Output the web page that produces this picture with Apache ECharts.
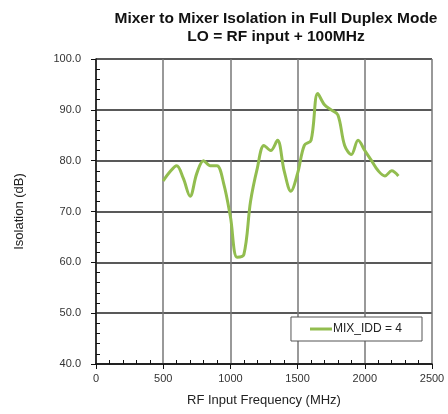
<!DOCTYPE html>
<html><head><meta charset="utf-8">
<script src="https://cdn.jsdelivr.net/npm/echarts@6/dist/echarts.min.js"></script>
<style>html,body{margin:0;padding:0;background:#fff}#c{width:448px;height:414px}</style>
</head><body><div id="c"></div>
<script>
const freqMHz = [500,550,600,650,700,750,800,850,900,950,1000,1050,1100,1150,1200,1250,1300,1350,1400,1450,1500,1550,1600,1650,1700,1750,1800,1850,1900,1950,2000,2050,2100,2150,2200,2250];
const isolationDb = [76.0,77.8,79.0,76.5,73.0,77.5,80.0,79.0,79.0,75.5,69.0,61.0,61.5,72.0,78.5,83.0,82.0,84.0,78.0,74.0,77.5,83.0,84.0,93.2,91.0,90.0,89.0,83.0,81.2,84.0,82.0,80.0,78.0,77.0,78.0,77.0];
const seriesName = 'MIX_IDD = 4';
const titleText = 'Mixer to Mixer Isolation in Full Duplex Mode\nLO = RF input + 100MHz';
const xName = 'RF Input Frequency (MHz)';
const yName = 'Isolation (dB)';

const chart = echarts.init(document.getElementById('c'), null, {renderer:'canvas'});
const font = 'Liberation Sans, Arial, sans-serif';
chart.setOption({
  animation:false,
  backgroundColor:'#fff',
  title:{text:titleText, left:271, textAlign:'center', top:5,
    textStyle:{fontFamily:font, fontSize:15.5, fontWeight:'bold', color:'#111', lineHeight:18}},
  grid:{left:96, right:16, top:59, bottom:50, containLabel:false},
  legend:{show:true, right:26, top:317, orient:'horizontal',
    borderColor:'#555', borderWidth:1, backgroundColor:'#fff',
    padding:[6,20,6,19], icon:'rect', itemWidth:22, itemHeight:3,
    textStyle:{fontFamily:font, fontSize:12, color:'#222', padding:[0,0,0,-4]},
    data:[seriesName]},
  xAxis:[{type:'value', min:0, max:2500, interval:500,
    name:xName, nameLocation:'middle', nameGap:30,
    nameTextStyle:{fontFamily:font, fontSize:13, color:'#222'},
    axisLine:{show:true, onZero:false, lineStyle:{color:'#111', width:1.5}},
    axisTick:{show:true, inside:false, length:5, lineStyle:{color:'#111'}},
    axisLabel:{fontFamily:font, fontSize:11, color:'#333', margin:9, formatter:v=>String(v)},
    splitLine:{show:true, lineStyle:{color:'#777', width:1.5}}},
   {type:'value', min:0, max:2500, interval:500, position:'bottom',
    axisLine:{show:false}, axisTick:{show:false, inside:true}, axisLabel:{show:false}, splitLine:{show:false},
    minorTick:{show:true, splitNumber:5, length:4, lineStyle:{color:'#111'}}}],
  yAxis:[{type:'value', min:40, max:100, interval:10,
    name:yName, nameLocation:'middle', nameGap:70, nameRotate:90,
    nameTextStyle:{fontFamily:font, fontSize:13, color:'#222'},
    axisLine:{show:true, onZero:false, lineStyle:{color:'#111', width:1.5}},
    axisTick:{show:true, inside:false, length:5, lineStyle:{color:'#111'}},
    axisLabel:{fontFamily:font, fontSize:11, color:'#333', margin:15, formatter:v=>v.toFixed(1)},
    splitLine:{show:true, lineStyle:{color:'#222', width:1.5}}},
   {type:'value', min:40, max:100, interval:10, position:'left',
    axisLine:{show:false}, axisTick:{show:false, inside:true}, axisLabel:{show:false}, splitLine:{show:false},
    minorTick:{show:true, splitNumber:5, length:4, lineStyle:{color:'#111'}}}],
  series:[{name:seriesName, type:'line', xAxisIndex:0, yAxisIndex:0,
    data:freqMHz.map((f,i)=>[f, isolationDb[i]]),
    smooth:0.35, showSymbol:false, symbol:'none',
    lineStyle:{color:'#92bd4f', width:3}, itemStyle:{color:'#92bd4f'}}]
});
</script></body></html>
